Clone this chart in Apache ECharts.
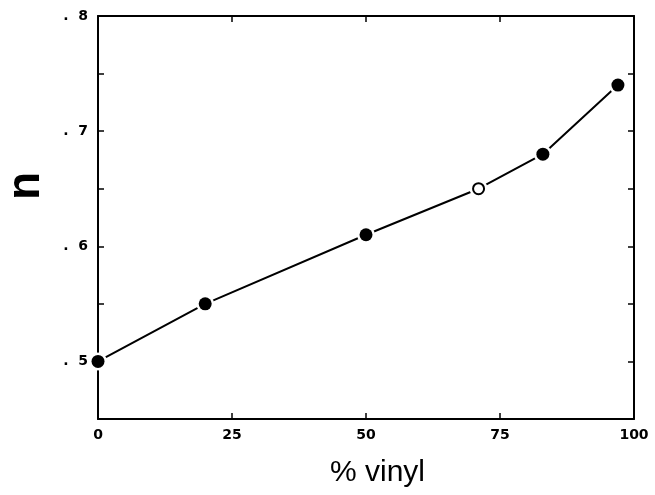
<!DOCTYPE html>
<html><head><meta charset="utf-8">
<script src="https://cdn.jsdelivr.net/npm/echarts@6/dist/echarts.min.js"></script>
<style>html,body{margin:0;padding:0;background:#fff}#c{width:655px;height:495px}</style>
</head><body><div id="c"></div>
<script>
const xVals = [0, 20, 50, 71, 83, 97];
const yVals = [0.50, 0.55, 0.61, 0.65, 0.68, 0.74];
const openFlags = [false, false, false, true, false, false];
const xTicks = [0, 25, 50, 75, 100];
const yTickLabels = ['.5', '.6', '.7', '.8'];
const xTitle = '% vinyl';
const yTitle = 'n';

const pts = xVals.map((x, i) => [x, yVals[i]]);
const markers = xVals.map((x, i) => ({
  value: [x, yVals[i]],
  symbolSize: openFlags[i] ? 11 : 13,
  itemStyle: openFlags[i] ? {color: '#fff', borderColor: '#000', borderWidth: 2, opacity: 1} : {color: '#000', borderWidth: 0, opacity: 1}
}));

const chart = echarts.init(document.getElementById('c'));
const lab = {fontFamily: 'DejaVu Sans', fontSize: 14, fontWeight: 'bold', color: '#000'};
const tick = {show: true, inside: true, length: 6, lineStyle: {color: '#000', width: 1.5}};
const line = {show: true, onZero: false, lineStyle: {color: '#000', width: 2}};
chart.setOption({
  animation: false,
  grid: {left: 98, right: 21, top: 16, bottom: 76, containLabel: false, outerBoundsMode: 'none'},
  xAxis: [{
    type: 'value', position: 'bottom', min: 0, max: 100, interval: 25,
    axisLine: line, axisTick: tick,
    axisLabel: Object.assign({margin: 9, formatter: v => xTicks.includes(v) ? String(v) : ''}, lab),
    splitLine: {show: false}
  }, {
    type: 'value', position: 'top', min: 0, max: 100, interval: 25,
    axisLine: line, axisTick: tick, axisLabel: {show: false}, splitLine: {show: false}
  }],
  yAxis: [{
    type: 'value', position: 'left', min: 0.45, max: 0.8, interval: 0.05,
    axisLine: line, axisTick: tick,
    axisLabel: Object.assign({margin: 10, formatter: v => {
      const r = Math.round(v * 10);
      return (Math.abs(v * 10 - r) < 1e-6 && yTickLabels.includes('.' + r)) ? '.  ' + r : '';
    }}, lab),
    splitLine: {show: false}
  }, {
    type: 'value', position: 'right', min: 0.45, max: 0.8, interval: 0.05,
    axisLine: line, axisTick: tick, axisLabel: {show: false}, splitLine: {show: false}
  }],
  graphic: [{
    type: 'text', left: 330, top: 458, z: 10,
    style: {text: xTitle, fontFamily: 'Liberation Sans', fontSize: 30, fill: '#000'}
  }, {
    type: 'text', x: 3, y: 200, rotation: Math.PI / 2, z: 10,
    style: {text: yTitle, fontFamily: 'Liberation Sans', fontSize: 46, fontWeight: 'bold', fill: '#000'}
  }],
  series: [{
    type: 'line', data: pts, symbol: 'none',
    lineStyle: {color: '#000', width: 2}, z: 2
  }, {
    type: 'scatter', data: pts, symbol: 'circle', symbolSize: 18,
    itemStyle: {color: '#fff', opacity: 1}, z: 3, silent: true
  }, {
    type: 'scatter', data: markers, symbol: 'circle', z: 4
  }, {
    type: 'line', data: [], xAxisIndex: 1, yAxisIndex: 1
  }]
});
</script></body></html>
